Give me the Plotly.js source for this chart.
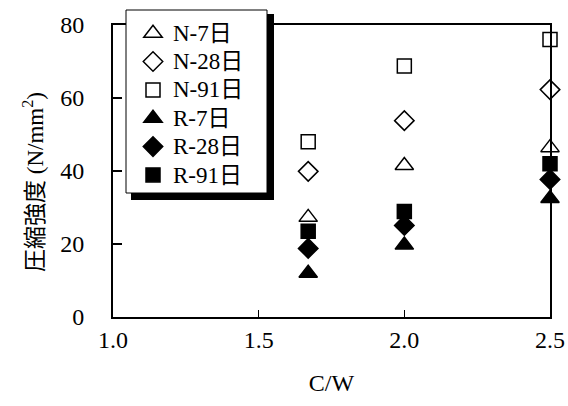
<!DOCTYPE html>
<html>
<head>
<meta charset="utf-8">
<script src="https://cdn.plot.ly/plotly-3.0.1.min.js"></script>
<style>body{margin:0;background:#fff;}#chart{width:568px;height:406px;}</style>
</head>
<body>
<div id="chart"></div>
<script>
var cw = [1.67, 2.0, 2.5];
var seriesNames = ["N-7日", "N-28日", "N-91日", "R-7日", "R-28日", "R-91日"];
var n7  = [27.3, 41.5, 46.4];
var n28 = [39.9, 53.8, 62.3];
var n91 = [48.0, 68.8, 76.0];
var r7  = [12.0, 19.7, 32.5];
var r28 = [18.8, 25.1, 37.7];
var r91 = [23.5, 28.9, 42.0];
var xTicks = [1.0, 1.5, 2.0, 2.5];
var xTickText = ["1.0", "1.5", "2.0", "2.5"];
var yTicks = [0, 20, 40, 60, 80];
var xTitle = "C/W";
var yTitle = "圧縮強度 (N/mm<sup>2</sup>)";

var symbols = ["triangle-up-open", "diamond-open", "square-open", "triangle-up", "diamond", "square"];
var sizes = [16, 15, 14, 16, 15, 14];
var data = [n7, n28, n91, r7, r28, r91];
var traces = data.map(function (ys, i) {
  return {
    x: cw, y: ys, type: "scatter", mode: "markers",
    name: '<span style="font-size:23px">' + seriesNames[i] + '</span>',
    cliponaxis: false,
    marker: { symbol: symbols[i], size: sizes[i], color: "#000", line: { color: "#000", width: 1.5 } }
  };
});

var font = "Liberation Serif, Noto Sans CJK JP, serif";
// plot area: left 113, right 550, top 25, bottom 317 (px)
function px(x) { return (x - 113) / 437; }
function py(y) { return (317 - y) / 292; }

var layout = {
  width: 568, height: 406,
  margin: { l: 113, r: 18, t: 25, b: 89 },
  paper_bgcolor: "#fff", plot_bgcolor: "#fff",
  font: { family: font, size: 23, color: "#000" },
  showlegend: true,
  legend: {
    x: px(133), y: py(14), xanchor: "left", yanchor: "top",
    bgcolor: "rgba(0,0,0,0)", borderwidth: 0,
    font: { family: font, size: 19.5, color: "#000" },
    itemwidth: 30
  },
  xaxis: {
    range: [1.0, 2.5], tickvals: xTicks, ticktext: xTickText,
    ticks: "inside", ticklen: 7, tickwidth: 1.5, tickcolor: "#000",
    showline: true, linecolor: "#000", linewidth: 2, mirror: true,
    showgrid: false, zeroline: false,
    ticklabelstandoff: 0,
    tickfont: { family: font, size: 24 },
    title: { text: xTitle, font: { family: font, size: 24 }, standoff: 22 }
  },
  yaxis: {
    range: [0, 80], tickvals: yTicks,
    ticks: "inside", ticklen: 9, tickwidth: 1.5, tickcolor: "#000",
    showline: true, linecolor: "#000", linewidth: 2, mirror: true,
    showgrid: false, zeroline: false,
    ticklabelstandoff: 22,
    tickfont: { family: font, size: 24 }
  },
  annotations: [{
    text: yTitle, xref: "paper", yref: "paper",
    x: px(33), y: py(182), xanchor: "center", yanchor: "middle",
    textangle: -90, showarrow: false,
    font: { family: font, size: 23, color: "#000" }
  }],
  shapes: [
    { type: "rect", xref: "paper", yref: "paper",
      x0: px(131), x1: px(274), y0: py(200), y1: py(14),
      fillcolor: "#000", line: { width: 0 }, layer: "above" },
    { type: "rect", xref: "paper", yref: "paper",
      x0: px(126), x1: px(267), y0: py(193), y1: py(10),
      fillcolor: "#fff", line: { color: "#000", width: 1 }, layer: "above" }
  ]
};

Plotly.newPlot("chart", traces, layout, { staticPlot: true, displayModeBar: false });
</script>
</body>
</html>
